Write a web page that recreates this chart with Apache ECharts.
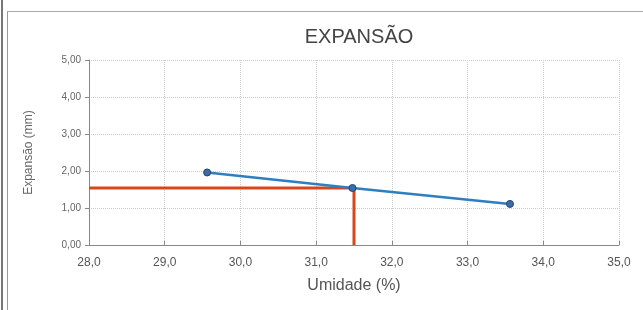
<!DOCTYPE html>
<html>
<head>
<meta charset="utf-8">
<script src="https://cdn.jsdelivr.net/npm/echarts@6/dist/echarts.min.js"></script>
<style>html,body{margin:0;padding:0;background:#fff}#chart{width:643px;height:310px}</style>
</head>
<body>
<div id="chart"></div>
<script>
var umidade = [29.56, 31.48, 33.56];
var expansao = [1.96, 1.54, 1.11];
var refX = 31.5;
var refY = 1.54;

var myChart = echarts.init(document.getElementById('chart'));
var option = {
    animation: false,
    backgroundColor: '#fff',
    title: {
        text: 'EXPANSÃO',
        left: 354,
        top: 22,
        textAlign: 'center',
        textStyle: { fontFamily: 'Liberation Sans', fontWeight: 'normal', fontSize: 20, color: '#444' }
    },
    grid: { left: 89, right: 24, top: 60, bottom: 65 },
    graphic: [
        { type: 'line', shape: { x1: 2, y1: 0, x2: 2, y2: 310 }, style: { stroke: '#777', lineWidth: 2 } },
        { type: 'line', shape: { x1: 7.5, y1: 11, x2: 7.5, y2: 310 }, style: { stroke: '#999', lineWidth: 1 } },
        { type: 'line', shape: { x1: 7, y1: 11.5, x2: 643, y2: 11.5 }, style: { stroke: '#aaa', lineWidth: 1 } }
    ],
    xAxis: {
        type: 'value', min: 28, max: 35, interval: 1,
        name: 'Umidade (%)', nameLocation: 'middle', nameGap: 33,
        nameTextStyle: { fontFamily: 'Liberation Sans', fontSize: 16, color: '#555' },
        axisLine: { show: true, onZero: false, lineStyle: { color: '#888' } },
        axisTick: { show: true, inside: true, length: 4, lineStyle: { color: '#888' } },
        axisLabel: { fontFamily: 'Liberation Sans', fontSize: 12, color: '#555', margin: 12,
            formatter: function (v) { return v.toFixed(1).replace('.', ','); } },
        splitLine: { show: true, lineStyle: { color: '#ccc', type: 'dotted' } }
    },
    yAxis: {
        type: 'value', min: 0, max: 5, interval: 1,
        name: 'Expansão (mm)', nameLocation: 'middle', nameGap: 54, nameRotate: 90,
        nameTextStyle: { fontFamily: 'Liberation Sans', fontSize: 12, color: '#666' },
        axisLine: { show: true, lineStyle: { color: '#888' } },
        axisTick: { show: true, length: 4, lineStyle: { color: '#888' } },
        axisLabel: { fontFamily: 'Liberation Sans', fontSize: 10, color: '#666', margin: 8,
            formatter: function (v) { return v.toFixed(2).replace('.', ','); } },
        splitLine: { show: true, lineStyle: { color: '#ccc', type: 'dotted' } }
    },
    series: [
        {
            type: 'line',
            data: [[28, refY], [refX, refY], [refX, 0]],
            symbol: 'none',
            lineStyle: { color: '#d9461c', width: 3 },
            z: 2
        },
        {
            type: 'line',
            data: umidade.map(function (x, i) { return [x, expansao[i]]; }),
            symbol: 'circle', symbolSize: 7,
            lineStyle: { color: '#2d7fc1', width: 2.5 },
            itemStyle: { color: '#3b6ea8', borderColor: '#27406a', borderWidth: 1 },
            z: 3
        }
    ]
};
myChart.setOption(option);
</script>
</body>
</html>
